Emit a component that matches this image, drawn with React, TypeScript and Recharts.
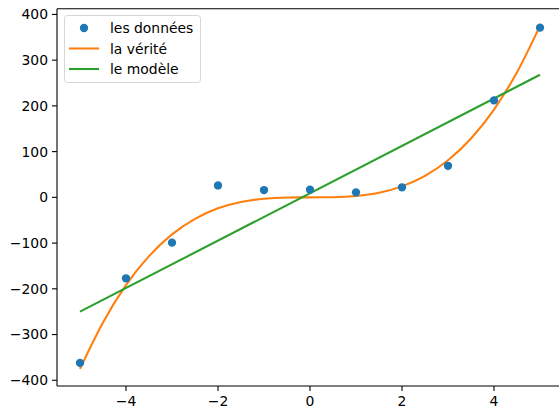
import React from 'react';
import { ComposedChart, Line, Scatter, XAxis, YAxis, ReferenceLine, Legend } from 'recharts';

const dataX = [-5, -4, -3, -2, -1, 0, 1, 2, 3, 4, 5];
const dataY = [-362, -177, -99, 26, 16, 17, 11, 22, 69, 212, 371];

const truthX = [-5, -4.5, -4, -3.5, -3, -2.5, -2, -1.5, -1, -0.5, 0, 0.5, 1, 1.5, 2, 2.5, 3, 3.5, 4, 4.5, 5];
const truthY = [-375, -273.4, -192, -128.6, -81, -46.9, -24, -10.1, -3, -0.4, 0, 0.4, 3, 10.1, 24, 46.9, 81, 128.6, 192, 273.4, 375];

const modelX = [-5, 5];
const modelY = [-250, 268];

const xTicks = [-4, -2, 0, 2, 4];
const yTicks = [-400, -300, -200, -100, 0, 100, 200, 300, 400];

const labels = ['les données', 'la vérité', 'le modèle'];

const BLUE = '#1f77b4';
const ORANGE = '#ff7f0e';
const GREEN = '#2ca02c';
const FONT = 'DejaVu Sans, sans-serif';
const FS = 13.9;

const points = dataX.map((x, i) => ({ x, y: dataY[i] }));
const truth = truthX.map((x, i) => ({ x, y: truthY[i] }));
const model = modelX.map((x, i) => ({ x, y: modelY[i] }));

const fmt = (v: number) => String(v).replace('-', '\u2212');

const LegendBox = () => (
  <svg width={137} height={68} style={{ display: 'block' }}>
    <rect x={0.5} y={0.5} width={136} height={67} rx={3} ry={3} fill="rgba(255,255,255,0.8)" stroke="#d6d6d6" strokeWidth={1} />
    <circle cx={20} cy={13} r={4.15} fill={BLUE} />
    <line x1={5} y1={33.5} x2={35} y2={33.5} stroke={ORANGE} strokeWidth={2.08} />
    <line x1={5} y1={54} x2={35} y2={54} stroke={GREEN} strokeWidth={2.08} />
    {labels.map((t, i) => (
      <text key={t} x={46} y={17.8 + i * 20.7} fontSize={FS} fontFamily={FONT} fill="#000">{t}</text>
    ))}
  </svg>
);

const Dot = (props: any) => <circle cx={props.cx} cy={props.cy} r={4.15} fill={BLUE} />;

export default function App() {
  return (
    <div style={{ position: 'absolute', left: 0, top: 0, width: 559, height: 408, overflow: 'hidden', background: '#fff' }}>
      <ComposedChart width={564} height={408} margin={{ top: 8.7, right: 1, bottom: 0, left: 0 }}>
        <XAxis
          dataKey="x"
          type="number"
          domain={[-5.5, 5.5]}
          ticks={xTicks}
          tickFormatter={fmt}
          height={22}
          tickSize={5}
          tickMargin={5}
          allowDataOverflow
          axisLine={{ stroke: '#000', strokeWidth: 1.1 }}
          tickLine={{ stroke: '#000', strokeWidth: 1.1 }}
          tick={{ fill: '#000', fontSize: FS, fontFamily: FONT }}
        />
        <YAxis
          dataKey="y"
          type="number"
          domain={[-412.5, 412.5]}
          ticks={yTicks}
          tickFormatter={fmt}
          width={57}
          tickSize={5}
          tickMargin={4}
          allowDataOverflow
          axisLine={{ stroke: '#000', strokeWidth: 1.1 }}
          tickLine={{ stroke: '#000', strokeWidth: 1.1 }}
          tick={{ fill: '#000', fontSize: FS, fontFamily: FONT }}
        />
        <ReferenceLine y={412.5} stroke="#000" strokeWidth={1.1} />
        <Scatter data={points} dataKey="y" fill={BLUE} shape={Dot} isAnimationActive={false} name={labels[0]} />
        <Line data={truth} dataKey="y" type="monotone" stroke={ORANGE} strokeWidth={2.08} dot={false} activeDot={false} isAnimationActive={false} name={labels[1]} />
        <Line data={model} dataKey="y" type="linear" stroke={GREEN} strokeWidth={2.08} dot={false} activeDot={false} isAnimationActive={false} name={labels[2]} />
        <Legend
          layout="vertical"
          align="center"
          verticalAlign="middle"
          content={() => <LegendBox />}
          wrapperStyle={{ position: 'absolute', left: 64, top: 15, width: 137, height: 68 }}
        />
      </ComposedChart>
    </div>
  );
}
